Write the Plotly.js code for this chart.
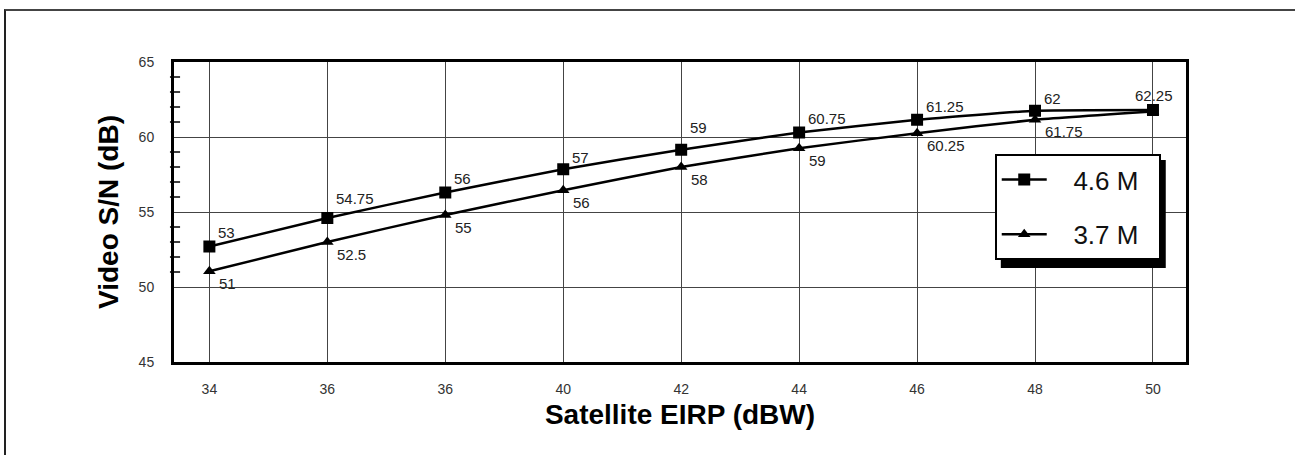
<!DOCTYPE html>
<html>
<head>
<meta charset="utf-8">
<script src="https://cdn.plot.ly/plotly-3.0.1.min.js"></script>
<style>
  html, body { margin: 0; padding: 0; background: #ffffff; }
  #frame { position: absolute; left: 4px; top: 9px; width: 1310px; height: 470px;
           border-top: 2px solid #444; border-left: 2px solid #222; box-sizing: border-box; }
  #chart { position: absolute; left: 0; top: 0; width: 1295px; height: 455px; }
</style>
</head>
<body>
<div id="frame"></div>
<div id="chart"></div>
<script>
// ---- data ----
const xTickLabels = ['34', '36', '36', '40', '42', '44', '46', '48', '50'];
const seriesNames = ['4.6 M', '3.7 M'];
const values46 = [52.7, 54.6, 56.3, 57.85, 59.15, 60.3, 61.15, 61.75, 61.8];
const values37 = [51.05, 53.0, 54.8, 56.45, 58.0, 59.25, 60.25, 61.15, 61.7];
const labels46 = ['53', '54.75', '56', '57', '59', '60.75', '61.25', '62', '62.25'];
const labels37 = ['51', '52.5', '55', '56', '58', '59', '60.25', '61.75', ''];
const yMinorTicks = [51, 52, 53, 54, 56, 57, 58, 59, 61, 62, 63, 64];

// ---- styling ----
const xIdx = xTickLabels.map((_, i) => i);
const FONT = '"Liberation Sans", Arial, sans-serif';
const topLabelRaise = [14, 20, 14, 12, 22, 14, 13, 12, 15];
const NB = '\u00a0';
const legendName = n => NB + NB + NB + n + NB + NB;

const trace37 = {
  x: xIdx, y: values37, name: legendName(seriesNames[1]), type: 'scatter', mode: 'lines+markers',
  line: { color: '#000', width: 2.5, shape: 'spline', smoothing: 0.4 },
  marker: { symbol: 'triangle-up', size: 11, color: '#000' },
  legendgroup: 'b', legendrank: 2, cliponaxis: false
};
const trace46 = {
  x: xIdx, y: values46, name: legendName(seriesNames[0]), type: 'scatter', mode: 'lines+markers',
  line: { color: '#000', width: 2.5, shape: 'spline', smoothing: 0.4 },
  marker: { symbol: 'square', size: 12, color: '#000' },
  legendgroup: 'a', legendrank: 1, cliponaxis: false
};

const annotations = [];
labels46.forEach((t, i) => {
  if (!t) return;
  const last = i === labels46.length - 1;
  annotations.push({
    x: xIdx[i], y: values46[i], xref: 'x', yref: 'y', text: t, showarrow: false,
    xanchor: last ? 'center' : 'left', yanchor: 'middle',
    xshift: last ? 1 : 7, yshift: topLabelRaise[i],
    font: { family: FONT, size: 15, color: '#222' }
  });
});
labels37.forEach((t, i) => {
  if (!t) return;
  annotations.push({
    x: xIdx[i], y: values37[i], xref: 'x', yref: 'y', text: t, showarrow: false,
    xanchor: 'left', yanchor: 'middle', xshift: 8, yshift: -12,
    font: { family: FONT, size: 15, color: '#222' }
  });
});

const shapes = yMinorTicks.map(v => ({
  type: 'line', xref: 'paper', yref: 'y', x0: -0.004, x1: 0.006, y0: v, y1: v,
  line: { color: '#000', width: 1.5 }
}));
// legend shadow
shapes.push({
  type: 'rect', xref: 'paper', yref: 'paper', x0: 0.817, x1: 0.980, y0: 0.313, y1: 0.673,
  fillcolor: '#000', line: { width: 0 }, layer: 'above'
});

const layout = {
  width: 1295, height: 455,
  margin: { l: 174, r: 109, t: 62, b: 93 },
  paper_bgcolor: 'rgba(0,0,0,0)', plot_bgcolor: '#fff',
  showlegend: true,
  legend: {
    x: 0.811, y: 0.693, xanchor: 'left', yanchor: 'top',
    bgcolor: '#fff', bordercolor: '#000', borderwidth: 2,
    font: { family: FONT, size: 26, color: '#111' },
    traceorder: 'grouped', tracegroupgap: 18, itemwidth: 45
  },
  xaxis: {
    range: [-0.3, 8.28], tickmode: 'array', tickvals: xIdx, ticktext: xTickLabels,
    showgrid: true, gridcolor: '#444', gridwidth: 1,
    showline: true, linecolor: '#000', linewidth: 3, mirror: true,
    ticks: 'outside', ticklen: 12, tickcolor: 'rgba(0,0,0,0)',
    tickfont: { family: FONT, size: 14, color: '#333' }, zeroline: false,
    title: { text: 'Satellite EIRP (dBW)', standoff: 9,
             font: { family: FONT, size: 28, color: '#000', weight: 'bold' } }
  },
  yaxis: {
    range: [45, 65], tickmode: 'array', tickvals: [45, 50, 55, 60, 65],
    showgrid: true, gridcolor: '#444', gridwidth: 1,
    showline: true, linecolor: '#000', linewidth: 3, mirror: true,
    ticks: 'outside', ticklen: 14, tickcolor: 'rgba(0,0,0,0)',
    tickfont: { family: FONT, size: 14, color: '#333' }, zeroline: false,
    title: { text: 'Video S/N (dB)', standoff: 12,
             font: { family: FONT, size: 28, color: '#000', weight: 'bold' } }
  },
  shapes: shapes,
  annotations: annotations
};

Plotly.newPlot('chart', [trace37, trace46], layout, { displayModeBar: false, staticPlot: true });
</script>
</body>
</html>
